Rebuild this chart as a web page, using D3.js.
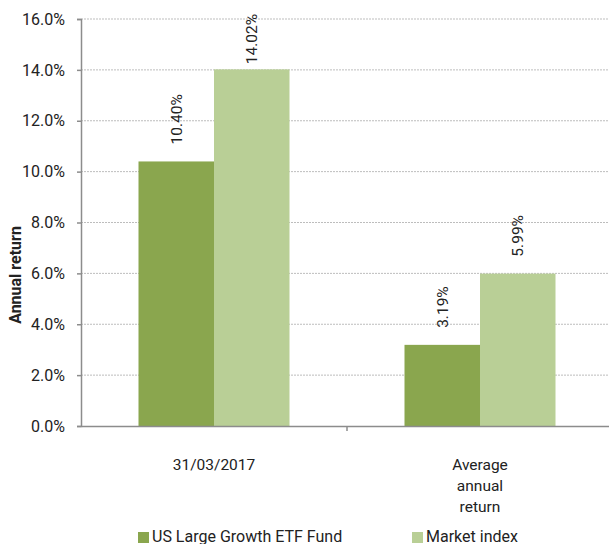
<!DOCTYPE html>
<html>
<head>
<meta charset="utf-8">
<script src="https://cdn.jsdelivr.net/npm/d3@7"></script>
<style>
  body { margin: 0; background: #fff; }
  text { font-family: Roboto, "Liberation Sans", sans-serif; fill: #222; }
</style>
</head>
<body>
<svg id="chart" width="609" height="544"></svg>
<script>
// data
let categories = ["31/03/2017", "Average annual return"];
let seriesNames = ["US Large Growth ETF Fund", "Market index"];
let fundValues = [10.40, 3.19];
let indexValues = [14.02, 5.99];
let yTicks = [0, 2, 4, 6, 8, 10, 12, 14, 16];
let colors = ["#8aa64e", "#b9cf96"];

let svg = d3.select("#chart");
let plotL = 81, plotR = 613, plotT = 19, plotB = 426;

let x0 = d3.scaleBand().domain(categories).range([plotL, plotR]);
let groupW = 151;
let x1 = d3.scaleBand().domain(seriesNames)
     .range([(x0.bandwidth() - groupW) / 2, (x0.bandwidth() + groupW) / 2]);
let y = d3.scaleLinear().domain([0, 16]).range([plotB, plotT]);

// gridlines
svg.append("g").selectAll("line")
     .data(yTicks.filter(d => d > 0))
     .enter().append("line")
     .attr("x1", plotL).attr("x2", plotR)
     .attr("y1", d => y(d)).attr("y2", d => y(d))
     .attr("stroke", "#bdbdbd")
     .attr("stroke-width", 1)
     .attr("stroke-dasharray", "2,1");

// bars
let rows = categories.map((c, i) => ({ cat: c, vals: [fundValues[i], indexValues[i]] }));
let groups = svg.append("g").selectAll("g")
     .data(rows).enter().append("g")
     .attr("transform", d => "translate(" + x0(d.cat) + ",0)");

groups.selectAll("rect")
     .data(d => d.vals.map((v, j) => ({ name: seriesNames[j], v: v, j: j })))
     .enter().append("rect")
     .attr("x", d => x1(d.name))
     .attr("width", x1.bandwidth())
     .attr("y", d => y(d.v))
     .attr("height", d => y(0) - y(d.v))
     .attr("fill", d => colors[d.j]);

// value labels, rotated
groups.selectAll("text.val")
     .data(d => d.vals.map((v, j) => ({ name: seriesNames[j], v: v, j: j })))
     .enter().append("text")
     .attr("class", "val")
     .style("font-size", "15.5px")
     .attr("dy", "0.35em")
     .text(d => d.v.toFixed(2) + "%")
     .each(function (d) {
          let len = this.getComputedTextLength();
          let start = y(d.v) - 17;
          if (start - len < 14) start = 14 + len;
          let cx = x1(d.name) + x1.bandwidth() / 2;
          d3.select(this).attr("transform", "translate(" + cx + "," + start + ") rotate(-90)");
     });

// y axis
let yAxis = d3.axisLeft(y).tickValues(yTicks).tickSize(4).tickPadding(12)
     .tickFormat(d => d.toFixed(1) + "%");
let ya = svg.append("g").attr("transform", "translate(" + plotL + ",0)").call(yAxis);
ya.select(".domain").attr("stroke", "#8c8c8c").attr("stroke-width", 1.5);
ya.selectAll(".tick line").attr("stroke", "#8c8c8c").attr("stroke-width", 1.5);
ya.selectAll(".tick text").style("font-size", "16px").style("font-family", "Roboto, sans-serif").attr("fill", "#222");

// x axis
let xAxis = d3.axisBottom(x0).tickSize(0).tickFormat("");
let xa = svg.append("g").attr("transform", "translate(0," + plotB + ")").call(xAxis);
xa.select(".domain").attr("stroke", "#8c8c8c").attr("stroke-width", 1.5);
xa.selectAll(".tick").remove();
xa.append("line")
     .attr("x1", x0(categories[1])).attr("x2", x0(categories[1]))
     .attr("y1", 0).attr("y2", 5)
     .attr("stroke", "#8c8c8c").attr("stroke-width", 1.5);

// category labels (wrapped)
let catLines = [["31/03/2017"], ["Average", "annual", "return"]];
categories.forEach((c, i) => {
     let t = svg.append("text")
          .attr("x", x0(c) + x0.bandwidth() / 2)
          .attr("y", 470)
          .attr("text-anchor", "middle")
          .style("font-size", "15.5px");
     catLines[i].forEach((ln, k) => {
          t.append("tspan").attr("x", x0(c) + x0.bandwidth() / 2)
               .attr("dy", k == 0 ? 0 : 21).text(ln);
     });
});

// y title
svg.append("text")
     .attr("transform", "translate(21,275) rotate(-90)")
     .attr("text-anchor", "middle")
     .style("font-size", "16px")
     .style("font-weight", "bold")
     .text("Annual return");

// legend
let legX = [138, 412];
let leg = svg.append("g").selectAll("g")
     .data(seriesNames).enter().append("g")
     .attr("transform", (d, i) => "translate(" + legX[i] + ",532)");
leg.append("rect").attr("width", 11).attr("height", 11)
     .attr("fill", (d, i) => colors[i]);
leg.append("text").attr("x", 14).attr("y", 10)
     .style("font-size", "16px")
     .text(d => d);
</script>
</body>
</html>
